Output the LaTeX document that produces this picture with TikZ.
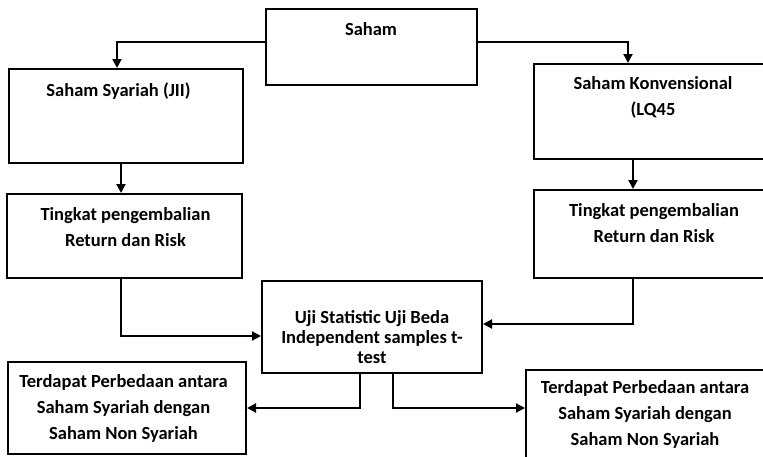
\documentclass[tikz,border=0pt]{standalone}
\usepackage{fontspec}
\setmainfont{Carlito}
\usetikzlibrary{arrows.meta}
\begin{document}
\begin{tikzpicture}[x=1pt,y=-1pt,
  box/.style={draw,line width=2pt,inner sep=0pt,minimum width=#1},
  lbl/.style={inner sep=0pt,align=center,font=\fontsize{18.5}{26}\selectfont\bfseries},
  arr/.style={line width=2pt,-{Triangle[length=9pt,width=9pt]}}]
\useasboundingbox[fill=white] (0,0) rectangle (763,456);
% boxes
\node[box=211pt,minimum height=76pt] (saham) at (371.5,47) {};
\node[box=234pt,minimum height=94pt] (syariah) at (126,116) {};
\node[box=238pt,minimum height=95pt] (konv) at (653,111.5) {};
\node[box=235pt,minimum height=84pt] (tingL) at (124.5,236) {};
\node[box=238pt,minimum height=88pt] (tingR) at (653,234) {};
\node[box=220pt,minimum height=92pt] (uji) at (372,327) {};
\node[box=238pt,minimum height=92pt] (hasilL) at (127,408) {};
\node[box=246pt,minimum height=100pt] (hasilR) at (649,420) {};
% texts
\node[lbl] (tsaham) at (371,29) {Saham};
\node[lbl] (tsyariah) at (118.5,91) {Saham Syariah (JII)};
\node[lbl] (tkonv) at (653,97.5) {Saham Konvensional\\(LQ45};
\node[lbl] (ttingL) at (125.5,227) {Tingkat pengembalian\\Return dan Risk};
\node[lbl] (ttingR) at (654,223.5) {Tingkat pengembalian\\Return dan Risk};
\node[lbl,font=\fontsize{18.5}{20}\selectfont\bfseries] (tuji) at (372,337) {Uji Statistic Uji Beda\\Independent samples t-\\test};
\node[lbl] (thasilL) at (123.5,408.5) {Terdapat Perbedaan antara\\Saham Syariah dengan\\Saham Non Syariah};
\node[lbl] (thasilR) at (645,414) {Terdapat Perbedaan antara\\Saham Syariah dengan\\Saham Non Syariah};
% connectors
\draw[arr] ([yshift=5pt]saham.west) -| ([xshift=-9pt]syariah.north);
\draw[arr] ([yshift=5pt]saham.east) -| ([xshift=-25pt]konv.north);
\draw[arr] ([xshift=-5pt]syariah.south) -- ([xshift=-5pt]syariah.south |- tingL.north);
\draw[arr] ([xshift=-20pt]konv.south) -- ([xshift=-20pt]konv.south |- tingR.north);
\draw[arr] ([xshift=-3.5pt]tingL.south) |- ([yshift=-9pt]uji.west);
\draw[arr] ([xshift=-20pt]tingR.south) |- ([yshift=3pt]uji.east);
\draw[arr] ([xshift=-12pt]uji.south) |- (hasilL.east);
\draw[arr] ([xshift=21pt]uji.south) |- ([yshift=12pt]hasilR.west);
\end{tikzpicture}
\end{document}
